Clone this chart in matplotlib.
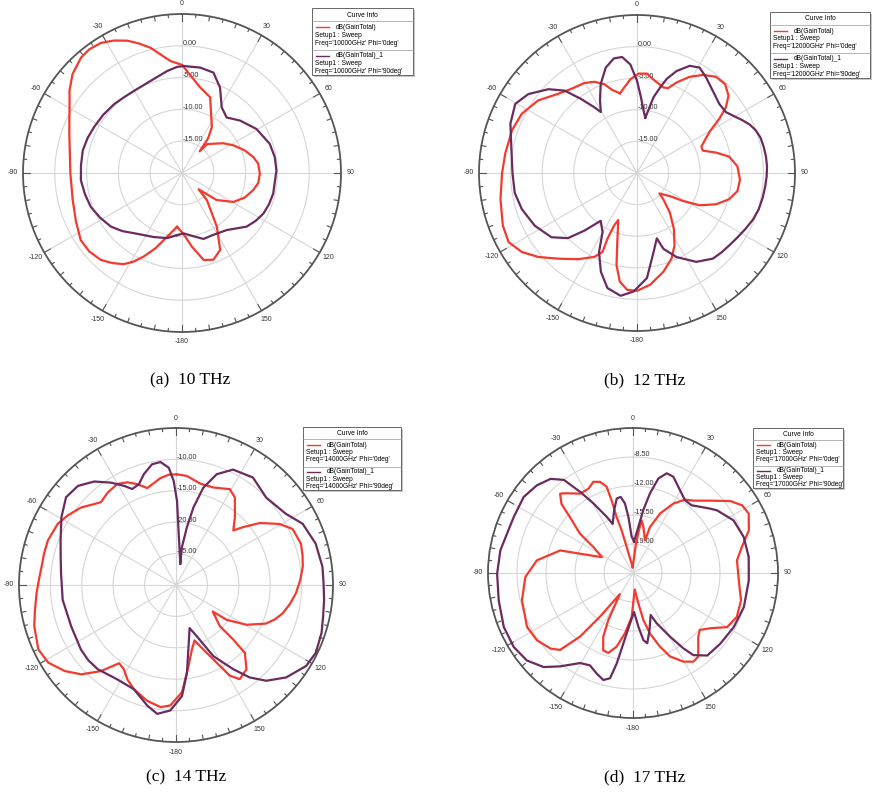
import numpy as np
import matplotlib
matplotlib.use("Agg")
import matplotlib.pyplot as plt
from matplotlib.patches import Rectangle

W, H = 874, 796
RED = "#f23a2f"
PURPLE = "#6a2b5f"

# ---- (a) 10 THz : theta (deg, clockwise from top) / gain (dB)
A_RED_DEG = [-174.7, -166.8, -160.6, -155.5, -151.5, -147.5, -142.3, -136.9, -130.2, -123.5,
             -114.7, -103.9, -90.3, -70.9, -63.7, -57.3, -53.9, -47.9, -41.2, -36.9, -31.9,
             -27.1, -22.4, -18.4, -14.1, -10.3, -5.9, 0, 12, 20.4, 33.1, 37, 39.2, 41, 47,
             54.2, 61.8, 70.3, 77.4, 83, 90.5, 97.4, 103.6, 111.3, 119.3, 128, 134.4, 137.5,
             147, 153.6, 160, 166, 172.3, 179, -174.7]
A_RED_DB = [-11.5, -9.7, -7.46, -5.6, -4.18, -3.0, -2.1, -1.3, -0.9, -0.9,
            -1.66, -2.3, -2.45, -1.25, -0.25, 1.0, 1.9, 3.2, 4.1, 4.3, 4.1,
            3.4, 2.5, 1.46, 0.3, -1.04, -2.3, -3.0, -6.25, -7.3, -11.4, -13.2, -15.6, -14.0, -13.25,
            -12.0, -10.8, -9.5, -8.5, -7.93, -7.76, -7.9, -8.5, -9.4, -10.7, -13.1, -16.35, -14.2,
            -9.95, -6.5, -5.5, -5.9, -8.3, -10.5, -11.5]
A_PUR_DEG = [-175.4, -167.1, -156.3, -141.5, -134.2, -127, -118.7, -110.4, -102.3, -94.1,
             -85.7, -77.2, -69.6, -62.5, -53.4, -44.6, -37.5, -30.3, -18.9, -8.3, -2.7, 0.9,
             9.8, 17.4, 24, 31.2, 38.8, 47.9, 59.4, 71.6, 80.3, 88.4, 102.7, 109.7, 116.5,
             122.9, 129.7, 141.9, 153, 162, 171, 178.4, -175.4]
A_PUR_DB = [-10.2, -9.5, -9.0, -7.9, -6.9, -6.0, -5.34, -4.7, -4.38, -4.06,
            -4.07, -4.0, -4.17, -4.4, -4.6, -4.8, -5.0, -5.05, -4.7, -3.8, -3.3, -3.18,
            -3.18, -3.46, -5.3, -7.94, -8.8, -7.7, -6.4, -5.46, -5.2, -5.15, -5.3, -5.46, -5.7,
            -6.17, -6.8, -8.6, -9.1, -9.1, -10.0, -10.5, -10.2]

# ---- (b) 12 THz
B_RED_DEG = [-12.1, -4.0, 0.9, 5.7, 11.1, 17.1, 20.2, 23.6, 28.7, 33.9, 39.4, 44.8, 49.8,
             53.5, 56.6, 60.4, 67.7, 71.2, 75.5, 79.9, 86.2, 93.7, 100.2, 105.9, 111.6,
             117.3, 121.3, 125, 132.4, 135, 140.2, 146.6, 152.6, 158, 165, 173.3, 180,
             -175.2, -171, -167.5, -164.7, -158.3, -156.4, -155.8, -156.4, -153, -145.5,
             -137.3, -130.4, -124.4, -118.3, -111.4, -100.9, -90, -81.5, -71.1, -62.8,
             -53.7, -45, -38.1, -30.4, -25.1, -20.3, -16.6, -12.1]
B_RED_DB = [-7.1, -5.12, -4.27, -4.2, -5.15, -5.83, -5.7, -4.37, -2.65, -1.3, -0.3, -0.2, -1.04,
            -2.5, -4.4, -6.8, -9.0, -9.0, -7.1, -5.2, -4.08, -3.67, -3.85, -4.84, -6.56,
            -8.86, -11.5, -13.6, -15.2, -14.1, -11.9, -9.4, -7.1, -5.4, -3.83, -2.2, -1.35,
            -1.45, -2.6, -5.05, -8.1, -12.0, -10.9, -8.6, -6.35, -5.1, -3.44,
            -1.56, 0.5, 2.1, 3.07, 2.8, 2.0, 1.35, 1.07, 0.9, 0.5,
            -0.6, -2.3, -3.1, -3.5, -4.06, -5.0, -6.3, -7.1]
B_PUR_DEG = [8.5, 6, 3, 0, -3.5, -7.3, -11.4, -16.5, -22.2, -27, -30.7, -33, -37.1, -41.3,
             -46.6, -54, -60.4, -68.7, -79.6, -90, -99.2, -107.4, -117.3, -126.9, -133.3,
             -137.6, -142.8, -149.7, -154.4, -159.9, -165.6, -172.4, -178.4, 174.6, 168.2,
             163.1, 160.8, 154.8, 146.3, 138.5, 133.4, 128.2, 122.7, 117.3, 112, 106.6, 101.1,
             95.9, 91.5, 87.1, 82.7, 78.3, 73.9, 70.1, 66.7, 63.4, 55.6, 50, 42.6, 35.9, 30.7,
             26.2, 21.2, 17.5, 15.1, 12.3, 9.5, 8.5]
B_PUR_DB = [-11.15, -10.05, -8.0, -5.4, -2.8, -1.5, -1.5, -2.6, -4.8, -7.1, -8.8, -7.6, -5.3, -2.65,
            -0.7, 1.25, 2.15, 1.5, 0.2, -0.3, -0.4, -0.9, -1.8, -3.07, -4.97,
            -7.65, -10.5, -9.2, -6.1, -3.36, -1.2, -0.4, -1.25, -3.3, -7.2,
            -9.2, -7.3, -5.3, -3.1, -1.9, -1.66, -1.45, -1.12, -0.7, -0.23, 0.1, 0.27,
            0.4, 0.52, 0.6, 0.57, 0.47, 0.32, -0.05, -0.6, -1.35, -2.95, -3.0, -2.3, -1.35, -0.6,
            -1.1, -2.7, -4.4, -6.0, -7.75, -10.5, -11.15]

# ---- (c) 14 THz
C_RED_DEG = [0.5, 5.7, 13.4, 21, 29.3, 33.9, 41, 46.4, 49.2, 53.5, 59.4, 64.3, 71.7, 76.8,
             81.8, 87.7, 93.9, 99.4, 104.7, 108.9, 113.2, 119.4, 124.5, 125.8, 133.2, 133.6,
             134.6, 140.1, 145.9, 149.3, 152.4, 158.5, 161.5, 166.2, 171.2, 176.8, -177.3,
             -172.8, -166, -158, -152.7, -148.4, -144, -138.9, -133.3, -127.7, -121.3, -115.1,
             -106.2, -100, -93.4, -87.9, -82.3, -76.6, -70.8, -62.6, -57.3, -50.7, -45.2,
             -42.2, -36.5, -30.1, -25.4, -21, -16.5, -8.3, -3.8, 0.5]
C_RED_DB = [-12.37, -12.55, -13.4, -13.37, -12.5, -13.2, -15.7, -17.4, -15.9, -13.4, -10.9, -9.4,
            -9.05, -9.3, -9.6, -10.2, -10.85, -11.6, -12.4, -13.26, -14.4, -17.1, -20.2, -22.8,
            -20.4, -17.4, -14.6, -12.5, -11.9, -13.2, -16.05, -19.5, -20.7, -19.4, -16.95,
            -12.9, -10.8, -10.4, -11.0, -12.1, -13.1, -14.2, -14.6, -11.8, -9.26, -7.6, -6.2,
            -5.8, -6.5, -7.2, -7.75, -8.15, -8.4, -8.4, -8.4, -8.8, -9.5, -10.5, -11.7,
            -12.2, -11.7, -11.4, -11.9, -12.8, -13.9, -12.8, -12.4, -12.37]
C_PUR_DEG = [11.3, 3, 0.7, -1.3, -3.5, -7.2, -11.2, -16.1, -20.2, -24.5, -27.6, -32.4, -38.3,
             -44.7, -51.4, -59.4, -68.9, -76.3, -84.2, -97.5, -111.5, -124.2, -130.7, -137.1,
             -148.2, -158, -166.6, -171.7, -177.4, 176.9, 172.9, 168.4, 162.5, 157.9, 152.3,
             145.8, 141.5, 136.7, 130, 121.9, 115.9, 108.2, 102, 95.7, 89.4, 82.9, 73.5, 64.2,
             57.1, 45.9, 35.6, 26.3, 20.2, 15.7, 12.7, 10.7, 8.9, 11.3]
C_PUR_DB = [-26.5, -21.8, -16.6, -13.4, -11.3, -10.26, -10.4, -11.6, -12.9, -13.2, -12.2, -10.7,
            -9.0, -7.8, -7.6, -8.8, -10.3, -11.1, -11.6, -11.8, -12.06, -11.7, -11.6, -11.7,
            -12.3, -12.1, -10.26, -9.26, -10.0, -12.3, -15.9, -20.05, -22.8, -21.2, -17.2,
            -13.8, -11.2, -9.05, -7.1, -5.6, -5.26, -5.6, -6.05, -6.3, -6.5, -6.5, -6.8, -7.6,
            -9.15, -10.0, -8.95, -9.5, -11.2, -13.9, -17.3, -20.6, -23.9, -26.5]

# ---- (d) 17 THz
D_RED_DEG = [-3, -13.7, -14.9, -16.3, -16.4, -17, -19.9, -23.5, -27.9, -33.6, -40.2, -42.6,
             -46, -48.4, -53.4, -56.8, -63, -70, -72.8, -82.5, -92.1, -103.8, -117, -125,
             -132.5, -136.5, -140.2, -142.9, -148.2, -152.3, -155, -158.9, -162.8, -167.5,
             -172.4, -178.3, 174, 170, 167.6, 164.3, 159.9, 156.1, 150.4, 145.8, 142, 134.3,
             130.4, 125.7, 119.9, 112.9, 104.2, 94, 83.1, 76.6, 69.8, 62.8, 58.2, 53.5, 47,
             40, 35.3, 30.2, 24.5, 20.3, 20.2, 12.7, 9.3, 8.1, 5.8, -3]
D_RED_DB = [-21.8, -19.3, -17.2, -15.5, -13.4, -11.6, -10.8, -10.5, -11.0, -11.0, -9.9, -9.5,
            -10.5, -12.3, -14.5, -16.8, -18.3, -15.7, -13.3, -10.8, -9.5, -8.7, -8.15, -8.35,
            -9.0, -9.7, -12.5, -15.9, -19.5, -16.1, -14.0, -12.5, -12.4, -13.4,
            -15.15, -17.2, -20.5, -18.8, -16.7, -14.9, -13.05, -11.5, -10.2, -9.56, -9.7, -11.5,
            -11.9, -11.06, -9.4, -8.9, -9.05, -9.7, -9.86, -9.0, -7.6, -6.8, -7.0, -7.9, -9.7,
            -11.1, -11.65, -12.8, -14.6, -16.6, -18.3, -16.8, -16.06, -17.1, -18.9, -21.8]
D_PUR_DEG = [1.8, -2.1, -4.7, -6.6, -9.2, -12.3, -16.8, -22.5, -25.1, -29.7, -33.1, -36.6,
             -41.2, -47.6, -55.2, -64.9, -72.7, -80.3, -90.3, -101.5, -112.7, -121.8, -129.5,
             -136.5, -142, -149.6, -155, -160.1, -164.5, -167.7, -169.8, -172.2, -175.2,
             178.5, 174.3, 171.2, 168.5, 164, 157.2, 154.8, 149.8, 146.3, 143.7, 138, 129,
             118.2, 107.1, 93.6, 82.1, 72, 62.4, 53.3, 50, 40.8, 35.5, 29.5, 22.7, 18.7, 15,
             12, 9.3, 6.6, 1.8]
D_PUR_DB = [-18.7, -18.1, -15.7, -14.05, -13.2, -13.3, -14.6, -16.1, -15.0, -12.8, -10.8, -8.5,
            -7.4, -6.8, -6.43, -6.6, -6.57, -6.26, -6.1, -5.96, -5.6, -5.56, -5.9,
            -6.85, -8.2, -9.9, -10.2, -9.6, -9.1, -9.5, -11.4, -13.9, -15.8,
            -17.8, -16.0, -14.3, -13.85, -15.3, -17.0, -15.8, -13.6, -11.6, -10.2, -9.1, -8.94,
            -8.7, -8.5, -8.5, -8.4, -8.45, -8.8, -9.85, -10.4, -11.7, -11.7, -11.0, -9.9, -9.8, -10.7,
            -12.7, -14.8, -16.9, -18.7]

# radial grid values / labels per panel
A_RINGS = [-15, -10, -5, 0]
B_RINGS = [-15, -10, -5, 0]
C_RINGS = [-25, -20, -15, -10]
D_RINGS = [-19.0, -15.5, -12.0, -8.5]
FREQS = ["10000", "12000", "14000", "17000"]
CAPTIONS = ["(a)  10 THz", "(b)  12 THz", "(c)  14 THz", "(d)  17 THz"]

plt.rcParams["font.family"] = ["Liberation Sans", "DejaVu Sans"]

fig = plt.figure(figsize=(W / 100, H / 100), dpi=100)
fig.patch.set_facecolor("white")


def px_rect(x0, y0, w, h):
    """pixel box (top-left origin) -> figure fraction rect"""
    return [x0 / W, 1 - (y0 + h) / H, w / W, h / H]


def draw_polar(cx, cy, rad, rmin, rmax, rings, curves):
    ax = fig.add_axes(px_rect(cx - rad, cy - rad, 2 * rad, 2 * rad), projection="polar")
    ax.set_theta_zero_location("N")
    ax.set_theta_direction(-1)
    ax.set_ylim(rmin, rmax)
    ax.set_xticks([])
    ax.set_yticks([])
    ax.grid(False)
    ax.spines["polar"].set_color("#555555")
    ax.spines["polar"].set_linewidth(1.3)
    ppu = rad / (rmax - rmin)  # pixels per dB

    full = np.linspace(0, 2 * np.pi, 361)
    for v in rings:
        ax.plot(full, np.full_like(full, v), color="#d6d6d6", lw=0.8, zorder=1)
    for a in range(0, 360, 30):
        ax.plot([np.radians(a)] * 2, [rmin, rmax], color="#d6d6d6", lw=0.8, zorder=1)

    # ticks on the outer circle
    for a in range(0, 360, 5):
        L = 7 if a % 30 == 0 else (4.5 if a % 10 == 0 else 3)
        ax.plot([np.radians(a)] * 2, [rmax - L / ppu, rmax], color="#555555", lw=0.8,
                zorder=2, clip_on=False)
    for a in range(0, 360, 30):
        lab = a if a < 180 else a - 360
        ax.text(np.radians(a), rmax + 10 / ppu, str(lab), fontsize=5, color="#333333",
                ha="center", va="center", clip_on=False)

    for v in rings:
        ax.annotate(f"{v:.2f}", xy=(0, v), xytext=(0.5, 1.5), textcoords="offset points",
                    fontsize=5.2, color="#333333", ha="left", va="center", zorder=3)

    for deg, db, col in curves:
        ax.plot(np.radians(deg), db, color=col, lw=1.6, zorder=4)
    return ax


def draw_legend(x0, y0, w, h, freq):
    lax = fig.add_axes(px_rect(x0, y0, w, h))
    lax.set_xlim(0, w)
    lax.set_ylim(h, 0)
    lax.axis("off")
    lax.add_patch(Rectangle((2, 2), w - 2, h - 2, facecolor="#c8c8c8", edgecolor="none",
                            clip_on=False))
    lax.add_patch(Rectangle((0, 0), w - 2, h - 2, facecolor="white", edgecolor="#666666",
                            lw=0.7, clip_on=False))
    lh = (h - 2) / 8.6
    lax.text((w - 2) / 2, lh * 0.9, "Curve Info", fontsize=4.8, ha="center", va="center")
    lax.plot([0, w - 2], [lh * 1.65] * 2, color="#999999", lw=0.5)
    rows = [(RED, "dB(GainTotal)", "0deg"), (PURPLE, "dB(GainTotal)_1", "90deg")]
    y = lh * 2.5
    for i, (col, name, phi) in enumerate(rows):
        lax.plot([4, 17], [y, y], color=col, lw=1.0)
        lax.text(24, y, name, fontsize=4.8, va="center")
        lax.text(3, y + lh, "Setup1 : Sweep", fontsize=4.8, va="center")
        lax.text(3, y + 2 * lh, f"Freq='{freq}GHz' Phi='{phi}'", fontsize=4.8, va="center")
        if i == 0:
            lax.plot([0, w - 2], [y + 2.9 * lh] * 2, color="#999999", lw=0.5)
        y += 3.6 * lh


draw_polar(182, 173, 159, -20, 5, A_RINGS,
           [(A_RED_DEG, A_RED_DB, RED), (A_PUR_DEG, A_PUR_DB, PURPLE)])
draw_polar(637, 173, 158, -20, 5, B_RINGS,
           [(B_RED_DEG, B_RED_DB, RED), (B_PUR_DEG, B_PUR_DB, PURPLE)])
draw_polar(176, 585, 157, -30, -5, C_RINGS,
           [(C_RED_DEG, C_RED_DB, RED), (C_PUR_DEG, C_PUR_DB, PURPLE)])
draw_polar(633, 573, 145, -22.5, -5, D_RINGS,
           [(D_RED_DEG, D_RED_DB, RED), (D_PUR_DEG, D_PUR_DB, PURPLE)])

draw_legend(312, 8, 103, 69, FREQS[0])
draw_legend(770, 12, 102, 68, FREQS[1])
draw_legend(303, 427, 100, 65, FREQS[2])
draw_legend(753, 428, 92, 62, FREQS[3])

for (x, y), cap in zip([(190, 380), (645, 380), (186, 777), (645, 777)], CAPTIONS):
    fig.text(x / W, 1 - y / H, cap, fontsize=12.5, ha="center", va="center",
             family=["Liberation Serif", "DejaVu Serif"])

fig.savefig("out.png", dpi=100)
